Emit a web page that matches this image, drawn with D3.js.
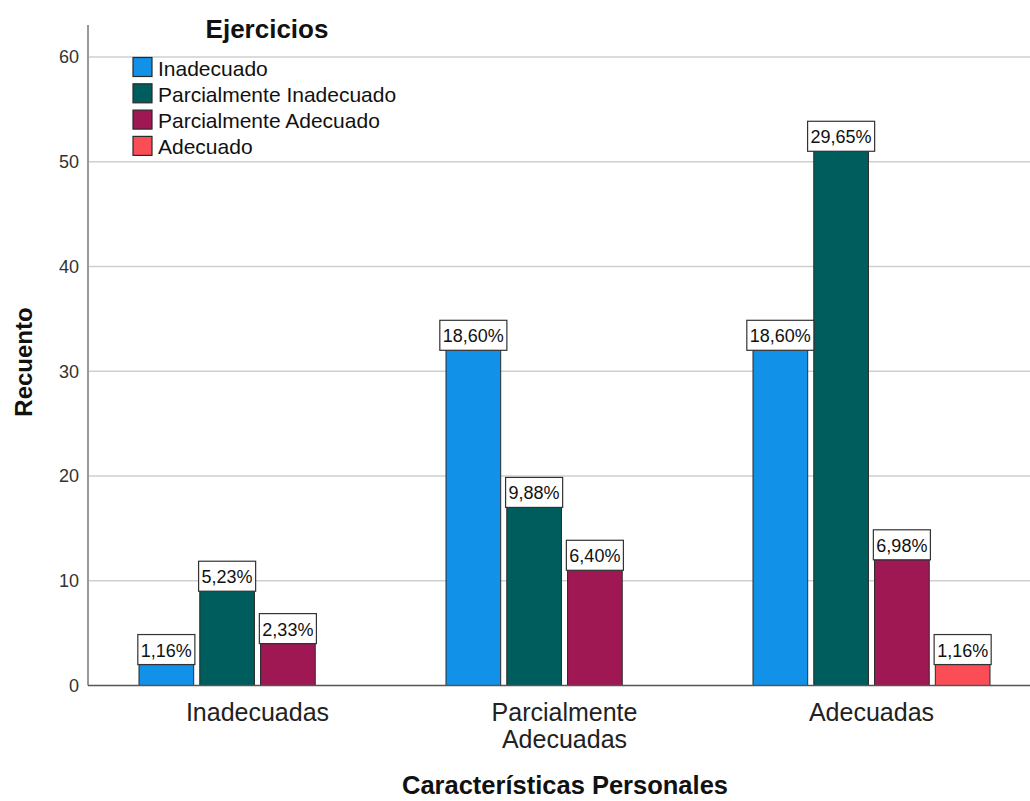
<!DOCTYPE html>
<html>
<head>
<meta charset="utf-8">
<script src="https://cdn.jsdelivr.net/npm/d3@7"></script>
<style>
  html, body { margin: 0; padding: 0; background: #fff; }
  svg { display: block; font-family: "Liberation Sans", Arial, sans-serif; }
</style>
</head>
<body>
<svg id="chart" width="1030" height="801"></svg>
<script>
const categories = ["Inadecuadas", "Parcialmente Adecuadas", "Adecuadas"];
const categoryLines = [["Inadecuadas"], ["Parcialmente", "Adecuadas"], ["Adecuadas"]];
const seriesNames = ["Inadecuado", "Parcialmente Inadecuado", "Parcialmente Adecuado", "Adecuado"];
const seriesColors = ["#1192e8", "#005d5d", "#9f1853", "#fa4d56"];
// counts per category, in series order
const inadecuado = [2, 32, 32];
const parcialInadecuado = [9, 17, 51];
const parcialAdecuado = [4, 11, 12];
const adecuado = [0, 0, 2];
const percentLabels = [
  ["1,16%", "18,60%", "18,60%"],
  ["5,23%", "9,88%", "29,65%"],
  ["2,33%", "6,40%", "6,98%"],
  ["", "", "1,16%"]
];
const yTicks = [0, 10, 20, 30, 40, 50, 60];
const legendTitle = "Ejercicios";
const xTitle = "Características Personales";
const yTitle = "Recuento";

const seriesValues = [inadecuado, parcialInadecuado, parcialAdecuado, adecuado];
const data = [];
categories.forEach((c, ci) => {
  seriesValues.forEach((vals, si) => {
    data.push({cat: c, series: seriesNames[si], value: vals[ci], label: percentLabels[si][ci], color: seriesColors[si]});
  });
});

const svg = d3.select("#chart");
const plotLeft = 88, plotRight = 1030, plotTop = 25;

const y = d3.scaleLinear().domain([0, 60]).range([685.5, 57]);
const x0 = d3.scaleBand().domain(categories).range([104, 1025]).paddingInner(0.228).paddingOuter(0.114);
const x1 = d3.scaleBand().domain(seriesNames).range([0, x0.bandwidth()]).paddingInner(0.1).paddingOuter(0);

// gridlines
svg.append("g").selectAll("line").data(yTicks.filter(d => d > 0)).join("line")
  .attr("x1", plotLeft).attr("x2", plotRight)
  .attr("y1", d => y(d)).attr("y2", d => y(d))
  .attr("stroke", "#cfcfcf").attr("stroke-width", 1.5);

// y axis
const yAxis = d3.axisLeft(y).tickValues(yTicks).tickSize(0).tickPadding(9);
const yg = svg.append("g").attr("transform", `translate(${plotLeft},0)`).call(yAxis);
yg.select(".domain").remove();
yg.selectAll("text").attr("font-size", 18).attr("fill", "#333").attr("font-family", "Liberation Sans, Arial, sans-serif");
svg.append("line").attr("x1", plotLeft).attr("x2", plotLeft).attr("y1", plotTop).attr("y2", y(0))
  .attr("stroke", "#999").attr("stroke-width", 2);

// bars
const bars = svg.append("g");
bars.selectAll("rect").data(data.filter(d => d.value > 0)).join("rect")
  .attr("x", d => x0(d.cat) + x1(d.series))
  .attr("y", d => y(d.value))
  .attr("width", x1.bandwidth())
  .attr("height", d => y(0) - y(d.value))
  .attr("fill", d => d.color)
  .attr("stroke", "#2a2a2a").attr("stroke-width", 1);

// x baseline
svg.append("line").attr("x1", plotLeft).attr("x2", plotRight).attr("y1", y(0)).attr("y2", y(0))
  .attr("stroke", "#555").attr("stroke-width", 1.5);

// value labels
const lg = svg.append("g");
data.filter(d => d.value > 0).forEach(d => {
  const cx = x0(d.cat) + x1(d.series) + x1.bandwidth() / 2;
  const g = lg.append("g");
  const t = g.append("text").attr("x", cx).attr("y", y(d.value) - 8)
    .attr("text-anchor", "middle").attr("font-size", 18).attr("fill", "#111").text(d.label);
  const w = t.node().getComputedTextLength() + 6;
  g.insert("rect", "text").attr("x", cx - w / 2).attr("y", y(d.value) - 30)
    .attr("width", w).attr("height", 30).attr("fill", "#fff").attr("stroke", "#333").attr("stroke-width", 1.2);
});

// x category labels
const xg = svg.append("g");
categories.forEach((c, i) => {
  const cx = x0(c) + x0.bandwidth() / 2;
  const t = xg.append("text").attr("x", cx).attr("y", 721).attr("text-anchor", "middle")
    .attr("font-size", 25).attr("fill", "#222");
  categoryLines[i].forEach((ln, j) => {
    t.append("tspan").attr("x", cx).attr("dy", j === 0 ? 0 : 27).text(ln);
  });
});

// axis titles
svg.append("text").attr("x", 565).attr("y", 794).attr("text-anchor", "middle")
  .attr("font-size", 25.5).attr("font-weight", "bold").attr("fill", "#111").text(xTitle);
svg.append("text").attr("transform", "translate(32,362) rotate(-90)").attr("text-anchor", "middle")
  .attr("font-size", 24).attr("font-weight", "bold").attr("fill", "#111").text(yTitle);

// legend
const leg = svg.append("g");
leg.append("text").attr("x", 267).attr("y", 38).attr("text-anchor", "middle")
  .attr("font-size", 26).attr("font-weight", "bold").attr("fill", "#111").text(legendTitle);
seriesNames.forEach((s, i) => {
  const yy = 57.5 + i * 26.3;
  leg.append("rect").attr("x", 133).attr("y", yy).attr("width", 19).attr("height", 19)
    .attr("fill", seriesColors[i]).attr("stroke", "#2a2a2a").attr("stroke-width", 1.2);
  leg.append("text").attr("x", 158).attr("y", yy + 18).attr("font-size", 21).attr("fill", "#111").text(s);
});
</script>
</body>
</html>
